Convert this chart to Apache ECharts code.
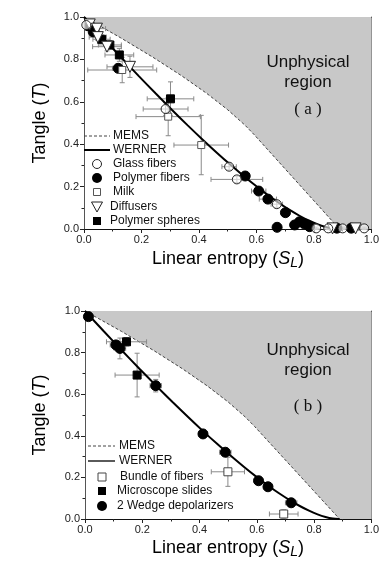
<!DOCTYPE html>
<html><head><meta charset="utf-8">
<script src="https://cdn.jsdelivr.net/npm/echarts@6/dist/echarts.min.js"></script>
<style>html,body{margin:0;padding:0;background:#fff}#c{width:382px;height:580px}</style>
</head><body><div id="c"></div>
<script>
// ---- theory curves (S_L, T) ----
const memsS = [0, 0.1267, 0.24, 0.34, 0.4267, 0.5, 0.56, 0.5926, 0.8889];
const memsT = [1, 0.9025, 0.81, 0.7225, 0.64, 0.5625, 0.49, 0.4444, 0];
const fillS = [0.8889, 1.0];
const fillT = [0, 0];
const wernerS = [0, 0.0656, 0.1289, 0.19, 0.2489, 0.3056, 0.36, 0.4122, 0.4622, 0.51, 0.5556, 0.5989, 0.64, 0.6789, 0.7156, 0.75, 0.7822, 0.8122, 0.84, 0.8656, 0.8889];
const wernerT = [1, 0.9025, 0.81, 0.7225, 0.64, 0.5625, 0.49, 0.4225, 0.36, 0.3025, 0.25, 0.2025, 0.16, 0.1225, 0.09, 0.0625, 0.04, 0.0225, 0.01, 0.0025, 0];

// ---- panel (a) data: [S_L, T] and errors [dS, dT] ----
const glassFibers = [[0.008,0.962],[0.284,0.566],[0.505,0.294],[0.532,0.234],[0.671,0.117],[0.808,0.003],[0.85,0.003],[0.90,0.003],[0.975,0.003]];
const glassErr = [[0.008,0.01],[0.078,0.03],[0.025,0.015],[0.09,0.015],[0.02,0.015],[0.015,0.006],[0.015,0.006],[0.015,0.006],[0.015,0.006]];
const polymerFibers = [[0.032,0.93],[0.119,0.758],[0.561,0.25],[0.608,0.179],[0.64,0.141],[0.701,0.077],[0.672,0.008],[0.733,0.019],[0.75,0.034],[0.767,0.024],[0.785,0.011],[0.88,0.004],[0.93,0.004]];
const polymerErr = [[0.01,0.01],[0.02,0.02],[0.015,0.015],[0.025,0.012],[0.03,0.012],[0.015,0.012],[0,0],[0,0],[0,0],[0,0],[0,0],[0,0],[0,0]];
const milk = [[0.133,0.75],[0.293,0.53],[0.408,0.396]];
const milkErr = [[0.12,0.06],[0.112,0.09],[0.095,0.14]];
const diffusers = [[0.02,0.965],[0.045,0.945],[0.048,0.905],[0.08,0.86],[0.16,0.765],[0.865,0.003],[0.945,0.003]];
const diffusersErr = [[0.01,0.01],[0.03,0.015],[0.03,0.015],[0.05,0.02],[0.08,0.05],[0.01,0.005],[0.01,0.005]];
const polymerSpheres = [[0.02,0.955],[0.038,0.93],[0.061,0.895],[0.09,0.868],[0.123,0.821],[0.301,0.614]];
const polymerSpheresErr = [[0.01,0.01],[0.01,0.01],[0.03,0.02],[0.04,0.02],[0.05,0.03],[0.081,0.08]];

// ---- panel (b) data ----
const bundleFibers = [[0.499,0.227],[0.694,0.024]];
const bundleErr = [[0.058,0.07],[0.05,0.02]];
const microSlides = [[0.145,0.852],[0.182,0.692]];
const microErr = [[0.07,0.02],[0.077,0.105]];
const wedgeDepol = [[0.012,0.973],[0.108,0.837],[0.122,0.82],[0.247,0.641],[0.412,0.409],[0.49,0.321],[0.606,0.184],[0.639,0.155],[0.72,0.078]];
const wedgeErr = [[0.005,0.005],[0.02,0.02],[0.02,0.05],[0.02,0.03],[0.015,0.015],[0.02,0.02],[0.015,0.01],[0.015,0.01],[0.02,0.02]];

const axisTicks = [0, 0.2, 0.4, 0.6, 0.8, 1.0];

const FONT = 'Liberation Sans, Arial, sans-serif';
const zip = (a, b) => a.map((v, i) => [v, b[i]]);
const withErr = (pts, err) => pts.map((p, i) => [p[0], p[1], err[i][0], err[i][1]]);

function errSeries(pts, err, gi) {
  return {
    type: 'custom', xAxisIndex: gi, yAxisIndex: gi, z: 3, silent: true,
    data: withErr(pts, err),
    renderItem: function (params, api) {
      const x = api.value(0), y = api.value(1), ex = api.value(2), ey = api.value(3);
      const ch = [];
      const st = {stroke: '#8a8a8a', lineWidth: 1};
      const c = 2.5;
      if (ex > 0) {
        const l = api.coord([x - ex, y]), r = api.coord([x + ex, y]);
        ch.push({type: 'line', shape: {x1: l[0], y1: l[1], x2: r[0], y2: r[1]}, style: st});
        ch.push({type: 'line', shape: {x1: l[0], y1: l[1] - c, x2: l[0], y2: l[1] + c}, style: st});
        ch.push({type: 'line', shape: {x1: r[0], y1: r[1] - c, x2: r[0], y2: r[1] + c}, style: st});
      }
      if (ey > 0) {
        const t = api.coord([x, y + ey]), b = api.coord([x, y - ey]);
        ch.push({type: 'line', shape: {x1: t[0], y1: t[1], x2: b[0], y2: b[1]}, style: st});
        ch.push({type: 'line', shape: {x1: t[0] - c, y1: t[1], x2: t[0] + c, y2: t[1]}, style: st});
        ch.push({type: 'line', shape: {x1: b[0] - c, y1: b[1], x2: b[0] + c, y2: b[1]}, style: st});
      }
      return {type: 'group', children: ch};
    }
  };
}
function scat(pts, gi, symbol, size, fill, stroke, rot) {
  return {
    type: 'scatter', xAxisIndex: gi, yAxisIndex: gi, z: 5, silent: true,
    symbol: symbol, symbolSize: size, symbolRotate: rot || 0,
    itemStyle: {color: fill, borderColor: stroke, borderWidth: 1, opacity: 1},
    data: pts
  };
}
function theory(gi) {
  return [
    {type: 'line', xAxisIndex: gi, yAxisIndex: gi, z: 1, silent: true, symbol: 'none',
     data: zip(memsS, memsT).concat(zip(fillS, fillT)),
     lineStyle: {width: 0}, areaStyle: {color: '#c8c8c8', opacity: 1, origin: 'end'}},
    {type: 'line', xAxisIndex: gi, yAxisIndex: gi, z: 2, silent: true, symbol: 'none',
     data: zip(memsS, memsT), lineStyle: {color: '#444', width: 1, type: [3, 2]}},
    {type: 'line', xAxisIndex: gi, yAxisIndex: gi, z: 4, silent: true, symbol: 'none', smooth: 0.3,
     data: zip(wernerS, wernerT), lineStyle: {color: '#000', width: 2}}
  ];
}
function xAx(gi) {
  return {type: 'value', gridIndex: gi, min: 0, max: 1, interval: 0.2,
    axisLine: {show: true, onZero: false, lineStyle: {color: '#111', width: 1.2}},
    axisTick: {show: true, inside: false, length: 4, lineStyle: {color: '#222'}},
    minorTick: {show: true, splitNumber: 2, length: 2.5, lineStyle: {color: '#222'}},
    splitLine: {show: false},
    axisLabel: {color: '#222', fontSize: 11, fontFamily: FONT, margin: 5, formatter: v => v.toFixed(1)}};
}
function yAx(gi) {
  return {type: 'value', gridIndex: gi, min: 0, max: 1, interval: 0.2,
    axisLine: {show: true, onZero: false, lineStyle: {color: '#555', width: 1}},
    axisTick: {show: true, inside: false, length: 4, lineStyle: {color: '#222'}},
    minorTick: {show: true, splitNumber: 2, length: 2.5, lineStyle: {color: '#222'}},
    splitLine: {show: false},
    axisLabel: {color: '#222', fontSize: 11, fontFamily: FONT, margin: 5, formatter: v => v.toFixed(1)}};
}
function frameX(gi) {
  return {type: 'value', gridIndex: gi, min: 0, max: 1, position: 'top',
    axisLine: {show: true, onZero: false, lineStyle: {color: '#111', width: 1.2}},
    axisTick: {show: false}, axisLabel: {show: false}, splitLine: {show: false}};
}
function frameY(gi) {
  return {type: 'value', gridIndex: gi, min: 0, max: 1, position: 'right',
    axisLine: {show: true, onZero: false, lineStyle: {color: '#777', width: 1}},
    axisTick: {show: false}, axisLabel: {show: false}, splitLine: {show: false}};
}

const series = [].concat(
  theory(0),
  errSeries(glassFibers, glassErr, 0),
  errSeries(polymerFibers, polymerErr, 0),
  errSeries(milk, milkErr, 0),
  errSeries(diffusers, diffusersErr, 0),
  errSeries(polymerSpheres, polymerSpheresErr, 0),
  scat(polymerFibers, 0, 'circle', 10, '#000', '#000'),
  scat(polymerSpheres, 0, 'rect', 8, '#000', '#000'),
  scat(milk, 0, 'rect', 7, '#fff', '#555'),
  scat(diffusers, 0, 'triangle', 11, '#fff', '#222', 180),
  scat(glassFibers, 0, 'circle', 9, 'rgba(255,255,255,0.6)', '#222'),
  theory(1),
  errSeries(bundleFibers, bundleErr, 1),
  errSeries(microSlides, microErr, 1),
  errSeries(wedgeDepol, wedgeErr, 1),
  scat(wedgeDepol, 1, 'circle', 10, '#000', '#000'),
  scat(microSlides, 1, 'rect', 8, '#000', '#000'),
  scat(bundleFibers, 1, 'rect', 8, '#fff', '#444')
);
series.push({type: 'line', xAxisIndex: 2, yAxisIndex: 2, data: [], silent: true});
series.push({type: 'line', xAxisIndex: 3, yAxisIndex: 3, data: [], silent: true});

const tf = {fontFamily: FONT, fill: '#111'};
const LF = 12;
function legendLine(x1, x2, y, dashed, w) {
  return {type: 'line', z: 100, shape: {x1: x1, y1: y, x2: x2, y2: y},
    style: {stroke: dashed ? '#444' : '#000', lineWidth: w, lineDash: dashed ? [3, 2] : null}};
}
function ltext(x, y, t) {
  return {type: 'text', z: 100, x: x, y: y, style: Object.assign({text: t, fontSize: LF, verticalAlign: 'middle', textAlign: 'left'}, tf)};
}
function axisTitleX(cx, cy) {
  return {type: 'text', z: 100, x: cx, y: cy, style: {
    text: '{n|Linear entropy (}{i|S}{s|L}{n|)}', textAlign: 'center', verticalAlign: 'middle',
    rich: {n: {fontSize: 18, fontFamily: FONT, color: '#111'},
           i: {fontSize: 18, fontFamily: FONT, fontStyle: 'italic', color: '#111'},
           s: {fontSize: 14, fontFamily: FONT, fontStyle: 'italic', color: '#111', padding: [8, 0, 0, 0]}}}};
}
function axisTitleY(cx, cy) {
  return {type: 'text', z: 100, x: cx, y: cy, rotation: Math.PI / 2, style: {
    text: '{n|Tangle (}{i|T}{n|)}', textAlign: 'center', verticalAlign: 'middle',
    rich: {n: {fontSize: 18, fontFamily: FONT, color: '#111'},
           i: {fontSize: 18, fontFamily: FONT, fontStyle: 'italic', color: '#111'}}}};
}
function regionText(cx, y1, y2, y3, lab) {
  return [
    {type: 'text', z: 100, x: cx, y: y1, style: Object.assign({text: 'Unphysical', fontSize: 17, textAlign: 'center', verticalAlign: 'middle'}, tf)},
    {type: 'text', z: 100, x: cx, y: y2, style: Object.assign({text: 'region', fontSize: 17, textAlign: 'center', verticalAlign: 'middle'}, tf)},
    {type: 'text', z: 100, x: cx, y: y3, style: {text: lab, fontSize: 17, fontFamily: 'Liberation Serif, serif', fill: '#111', textAlign: 'center', verticalAlign: 'middle'}}
  ];
}

const graphic = [].concat(
  [axisTitleY(40, 123), axisTitleX(228, 259), axisTitleY(40, 415), axisTitleX(228, 548)],
  regionText(308, 62, 82, 110, '( a )'),
  regionText(308, 350, 370, 407, '( b )'),
  [
    legendLine(84, 110, 136, true, 1), ltext(113, 136, 'MEMS'),
    legendLine(84, 110, 150, false, 2), ltext(113, 150, 'WERNER'),
    {type: 'circle', z: 100, shape: {cx: 97, cy: 164, r: 4.5}, style: {fill: '#fff', stroke: '#222', lineWidth: 1}}, ltext(113, 164, 'Glass fibers'),
    {type: 'circle', z: 100, shape: {cx: 97, cy: 178, r: 5}, style: {fill: '#000'}}, ltext(113, 178, 'Polymer fibers'),
    {type: 'rect', z: 100, shape: {x: 93.5, y: 188.5, width: 7, height: 7}, style: {fill: '#fff', stroke: '#555', lineWidth: 1}}, ltext(113, 192, 'Milk'),
    {type: 'polygon', z: 100, shape: {points: [[91.5, 202], [102.5, 202], [97, 212]]}, style: {fill: '#fff', stroke: '#222', lineWidth: 1}}, ltext(110, 207, 'Diffusers'),
    {type: 'rect', z: 100, shape: {x: 93, y: 217, width: 8, height: 8}, style: {fill: '#000'}}, ltext(110, 221, 'Polymer spheres'),

    legendLine(88, 115, 446, true, 1), ltext(119, 446, 'MEMS'),
    legendLine(88, 115, 461, false, 1.3), ltext(119, 461, 'WERNER'),
    {type: 'rect', z: 100, shape: {x: 98, y: 473, width: 8, height: 8}, style: {fill: '#fff', stroke: '#444', lineWidth: 1}}, ltext(120, 477, 'Bundle of fibers'),
    {type: 'rect', z: 100, shape: {x: 98, y: 487, width: 8, height: 8}, style: {fill: '#000'}}, ltext(117, 491, 'Microscope slides'),
    {type: 'circle', z: 100, shape: {cx: 102, cy: 506, r: 5}, style: {fill: '#000'}}, ltext(117, 506, '2 Wedge depolarizers')
  ]
);

const chart = echarts.init(document.getElementById('c'), null, {renderer: 'canvas'});
chart.setOption({
  animation: false,
  backgroundColor: '#fff',
  grid: [
    {left: 84, right: 10, top: 17, height: 212},
    {left: 85, right: 10, top: 311, height: 208}
  ],
  xAxis: [xAx(0), xAx(1), frameX(0), frameX(1)],
  yAxis: [yAx(0), yAx(1), frameY(0), frameY(1)],
  series: series,
  graphic: graphic
});
</script></body></html>
